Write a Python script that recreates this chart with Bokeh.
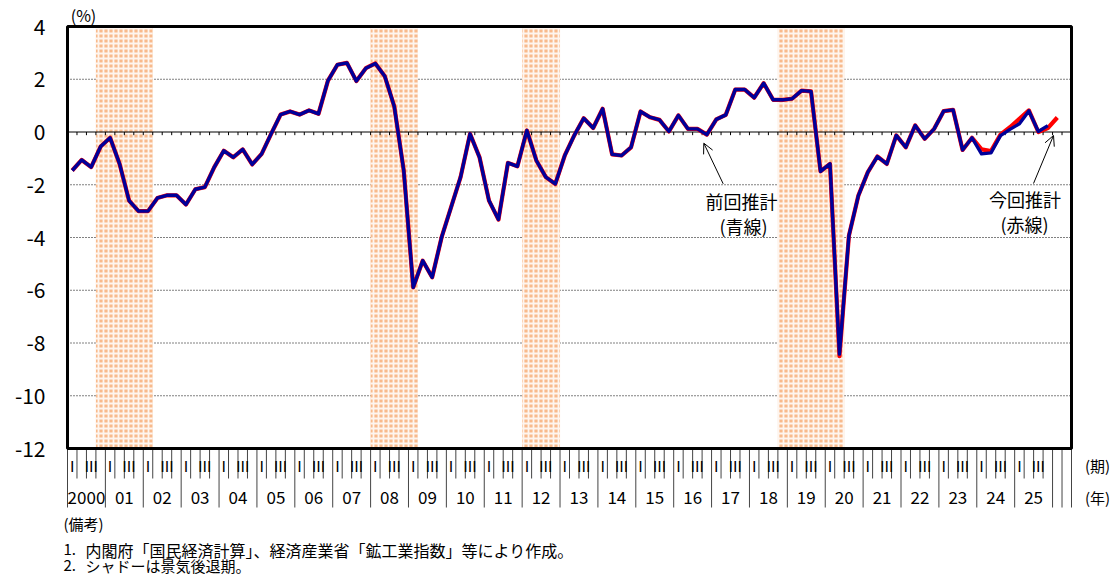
from bokeh.plotting import figure
from bokeh.models import FixedTicker, Arrow, OpenHead, Range1d
from bokeh.core.properties import value
from bokeh.embed import file_html
from bokeh.resources import INLINE

FONT = "Noto Sans CJK JP"

# ---------------- data ----------------
quarters = [f"{y}Q{q}" for y in range(2000, 2027) for q in range(1, 5)][:106]
year_labels = ["2000"] + [f"{y % 100:02d}" for y in range(2001, 2026)]
quarter_marks = ["Ⅰ", "Ⅲ"]

# 前回推計 (blue) from 2000Q1
blue = [-1.46, -1.06, -1.33, -0.55,
        -0.22, -1.21, -2.60, -3.00,
        -3.00, -2.50, -2.40, -2.40,
        -2.75, -2.17, -2.09, -1.33,
        -0.71, -0.96, -0.66, -1.23,
        -0.83, -0.07, 0.66, 0.78,
        0.66, 0.82, 0.69, 1.95,
        2.55, 2.62, 1.93, 2.42,
        2.60, 2.11, 0.97, -1.46,
        -5.89, -4.88, -5.51, -3.99,
        -2.85, -1.71, -0.07, -0.96,
        -2.60, -3.32, -1.17, -1.30,
        0.06, -1.08, -1.71, -1.97,
        -0.89, -0.13, 0.52, 0.15,
        0.88, -0.85, -0.89, -0.58,
        0.78, 0.56, 0.46, 0.02,
        0.63, 0.12, 0.12, -0.10,
        0.48, 0.65, 1.61, 1.61,
        1.30, 1.85, 1.22, 1.22,
        1.26, 1.57, 1.54, -1.49,
        -1.21, -8.42, -3.93, -2.41,
        -1.52, -0.93, -1.21, -0.13,
        -0.58, 0.25, -0.26, 0.12,
        0.79, 0.84, -0.68, -0.22,
        -0.83, -0.79, -0.14, 0.10,
        0.31, 0.80, 0.02, 0.24]

# 今回推計 (red) from 2000Q1
red = [-1.46, -1.06, -1.33, -0.55,
       -0.22, -1.21, -2.60, -3.00,
       -3.00, -2.50, -2.40, -2.40,
       -2.75, -2.17, -2.09, -1.33,
       -0.71, -0.96, -0.66, -1.23,
       -0.83, -0.07, 0.66, 0.78,
       0.66, 0.82, 0.69, 1.95,
       2.55, 2.62, 1.93, 2.42,
       2.60, 2.11, 0.97, -1.46,
       -5.89, -4.88, -5.51, -3.99,
       -2.85, -1.71, -0.07, -0.96,
       -2.60, -3.32, -1.17, -1.30,
       0.06, -1.08, -1.71, -1.97,
       -0.89, -0.13, 0.52, 0.15,
       0.88, -0.85, -0.89, -0.58,
       0.78, 0.56, 0.46, 0.02,
       0.63, 0.12, 0.12, -0.10,
       0.48, 0.65, 1.61, 1.61,
       1.30, 1.85, 1.22, 1.22,
       1.26, 1.57, 1.54, -1.49,
       -1.21, -8.50, -3.93, -2.41,
       -1.52, -0.93, -1.21, -0.13,
       -0.58, 0.25, -0.26, 0.12,
       0.79, 0.84, -0.68, -0.22,
       -0.66, -0.72, -0.10, 0.18,
       0.50, 0.82, 0.00, 0.15,
       0.55]

rec_start = ["2000Q4", "2008Q1", "2012Q1", "2018Q4"]
rec_end = ["2002Q1", "2009Q1", "2012Q4", "2020Q2"]

y_ticks = [-12, -10, -8, -6, -4, -2, 0, 2, 4]
grid_ticks = [-10, -8, -6, -4, -2, 2]
Y_MIN, Y_MAX = -12, 4

notes_head = "(備考)"
notes = ["内閣府「国民経済計算」、経済産業省「鉱工業指数」等により作成。",
         "シャドーは景気後退期。"]
note_nums = ["1.", "2."]

# ---------------- layout constants (pixels) ----------------
W, H = 1116, 582
QW = 1004 / 106          # px per quarter
PX_LEFT = 67             # page x of plot-box left edge
FRAME_LEFT = 60          # frame starts a bit left of the box (for the notes)
Y0_PX = 131.5            # page y of value 0
UNIT = 26.375            # px per 1 %

NQ = len(quarters)
idx = {q: i for i, q in enumerate(quarters)}
xb = [i + 0.5 for i in range(len(blue))]
xr = [i + 0.5 for i in range(len(red))]

x_start = -(PX_LEFT - FRAME_LEFT) / QW
x_end = x_start + (W - FRAME_LEFT) / QW
y_top = Y0_PX / UNIT
y_bot = (Y0_PX - H) / UNIT


def vy(py):
    return (Y0_PX - py) / UNIT


def vx(px):
    return (px - PX_LEFT) / QW


p = figure(width=W, height=H,
           x_range=Range1d(x_start, x_end), y_range=Range1d(y_bot, y_top),
           output_backend="svg", toolbar_location=None,
           x_axis_location=None,
           min_border_left=FRAME_LEFT, min_border_right=0,
           min_border_top=0, min_border_bottom=0)
p.background_fill_color = "white"
p.border_fill_color = "white"
p.outline_line_color = None
p.xgrid.visible = False
p.ygrid.visible = False

ax = p.yaxis[0]
ax.ticker = FixedTicker(ticks=y_ticks)
ax.major_label_overrides = {t: str(t) for t in y_ticks}
ax.axis_line_color = None
ax.major_tick_line_color = None
ax.minor_tick_line_color = None
ax.major_tick_out = 0
ax.major_tick_in = 0
ax.major_label_standoff = 15
ax.major_label_text_font = FONT
ax.major_label_text_font_size = "21px"
ax.major_label_text_color = "black"

# dotted gridlines
p.segment(x0=[0] * len(grid_ticks), y0=grid_ticks, x1=[NQ] * len(grid_ticks),
          y1=grid_ticks, line_color="black", line_width=1, line_dash="1 2")

# recession shading
p.quad(left=[idx[s] for s in rec_start], right=[idx[e] + 1 for e in rec_end],
       bottom=Y_MIN, top=Y_MAX, fill_color="#F8BA8C", line_color=None,
       hatch_pattern="cross", hatch_color="white", hatch_scale=5,
       hatch_weight=1.8, hatch_alpha=0.85)

# zero line with quarter ticks
p.segment(x0=[0], y0=[0], x1=[NQ], y1=[0], line_color="black", line_width=1)
bnds = list(range(1, NQ))
p.segment(x0=bnds, y0=[0] * len(bnds), x1=bnds, y1=[-0.12] * len(bnds),
          line_color="black", line_width=1)

# ----- category axis below the box -----
short_b = [b for b in range(1, 104) if b % 4 != 0]
long_b = [b for b in range(0, 105, 4)] + [105, NQ]
p.segment(x0=short_b, y0=[Y_MIN] * len(short_b), x1=short_b,
          y1=[vy(478)] * len(short_b), line_color="#444444", line_width=1)
p.segment(x0=long_b, y0=[Y_MIN] * len(long_b), x1=long_b,
          y1=[vy(507)] * len(long_b), line_color="#444444", line_width=1)

rx, rt = [], []
for k in range(len(year_labels)):
    rx += [4 * k + 0.5, 4 * k + 2.5]
    rt += quarter_marks
p.text(x=rx, y=[vy(465)] * len(rx), text=rt, text_align="center",
       text_baseline="middle", text_font=value(FONT), text_font_size="15px",
       text_color="black")
yx = [4 * k + 2 for k in range(len(year_labels))]
p.text(x=yx, y=[vy(497)] * len(yx), text=year_labels, text_align="center",
       text_baseline="middle", text_font=value(FONT), text_font_size="17px",
       text_color="black")


def lab(px, py, t, size, align="center"):
    p.text(x=[vx(px)], y=[vy(py)], text=[t], text_align=align,
           text_baseline="middle", text_font=value(FONT),
           text_font_size=size, text_color="black")


lab(1097, 465, "(期)", "15px")
lab(1097, 497, "(年)", "15px")
lab(83, 14, "(%)", "16px")

lab(63, 523, notes_head, "15px", "left")
lab(63, 549, note_nums[0], "15px", "left")
lab(85, 549, notes[0], "16px", "left")
lab(63, 565, note_nums[1], "15px", "left")
lab(85, 565, notes[1], "15px", "left")

# annotations
lab(741, 200, "前回推計", "18px")
lab(743, 225, "(青線)", "18px")
lab(1024.5, 198, "今回推計", "18px")
lab(1024, 223, "(赤線)", "18px")
p.add_layout(Arrow(x_start=vx(722.7), y_start=vy(183.3), x_end=vx(703.3), y_end=vy(142.7),
                   line_color="black", line_width=1,
                   end=OpenHead(size=10, line_color="black", line_width=1)))
p.add_layout(Arrow(x_start=vx(1033), y_start=vy(183), x_end=vx(1053), y_end=vy(135),
                   line_color="black", line_width=1,
                   end=OpenHead(size=10, line_color="black", line_width=1)))

# plot box
p.quad(left=[0], right=[NQ], bottom=[Y_MIN], top=[Y_MAX], fill_color=None,
       line_color="black", line_width=3)

# data lines
p.line(xr, red, line_color="#FF0000", line_width=4.2, line_join="round")
p.line(xb, blue, line_color="#000099", line_width=3.4, line_join="round")

open("out.html", "w").write(file_html(p, INLINE))
